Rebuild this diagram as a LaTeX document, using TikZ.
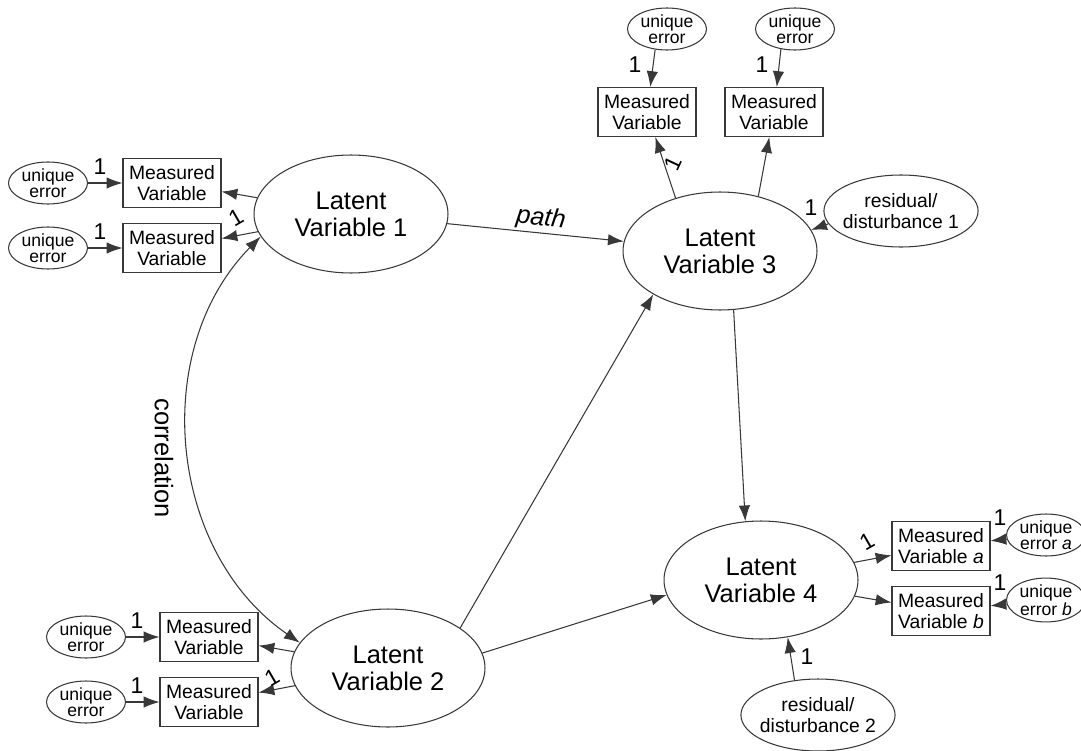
\documentclass[tikz,border=0pt]{standalone}
\usepackage{fontspec}
\setmainfont{Liberation Sans}
\usepackage{tikz}
\usetikzlibrary{shapes.geometric,arrows.meta}
\usepackage{xcolor}
\definecolor{linegray}{rgb}{0.22,0.22,0.22}

\begin{document}
\begin{tikzpicture}[x=0.02cm,y=-0.02cm,line width=0.6pt,
    latent/.style={draw=linegray,ellipse,inner sep=0pt,minimum width=3.88cm,minimum height=2.36cm,align=center,font=\fontsize{14.5}{15.5}\selectfont},
    measured/.style={draw=linegray,rectangle,inner sep=0pt,minimum width=1.96cm,minimum height=0.98cm,align=center,font=\fontsize{11}{11.5}\selectfont},
    uerr/.style={draw=linegray,ellipse,inner sep=0pt,minimum width=1.58cm,minimum height=0.84cm,align=center,font=\fontsize{10}{9}\selectfont},
    resid/.style={draw=linegray,ellipse,inner xsep=-2pt,inner ysep=0pt,minimum width=3.04cm,minimum height=1.44cm,align=center,font=\fontsize{11}{12}\selectfont},
    arr/.style={draw=linegray,-{Latex[length=9pt,width=6.5pt]}},
    corr/.style={draw=linegray,{Latex[length=9pt,width=6.5pt]}-{Latex[length=9pt,width=6.5pt]}},
    one/.style={font=\fontsize{13}{13}\selectfont,inner sep=0pt}]
    \useasboundingbox (0,0) rectangle (1081,750);

    \node[latent] (lv1) at (351,214) {Latent\\Variable 1};
    \node[latent] (lv2) at (388,668) {Latent\\Variable 2};
    \node[latent] (lv3) at (720,251) {Latent\\Variable 3};
    \node[latent] (lv4) at (761,580) {Latent\\Variable 4};

    \node[measured] (mv1a) at (172,183) {Measured\\Variable};
    \node[measured] (mv1b) at (172,248) {Measured\\Variable};
    \node[measured] (mv2a) at (209,637) {Measured\\Variable};
    \node[measured] (mv2b) at (209,702) {Measured\\Variable};
    \node[measured] (mv3a) at (647,112) {Measured\\Variable};
    \node[measured] (mv3b) at (774,112) {Measured\\Variable};
    \node[measured] (mva) at (941,546) {Measured\\Variable \textit{a}};
    \node[measured] (mvb) at (941,611) {Measured\\Variable \textit{b}};

    \node[uerr] (ue1a) at (48,183) {unique\\error};
    \node[uerr] (ue1b) at (48,248) {unique\\error};
    \node[uerr] (ue2a) at (86,637) {unique\\error};
    \node[uerr] (ue2b) at (86,702) {unique\\error};
    \node[uerr] (ue3a) at (667,29) {unique\\error};
    \node[uerr] (ue3b) at (795,29) {unique\\error};
    \node[uerr] (uea) at (1046,535) {unique\\error \textit{a}};
    \node[uerr] (ueb) at (1046,600) {unique\\error \textit{b}};

    \node[resid] (rd1) at (901,211) {residual/\\disturbance 1};
    \node[resid] (rd2) at (818,715) {residual/\\disturbance 2};

    \draw[arr] (ue1a) -- (mv1a);
    \draw[arr] (ue1b) -- (mv1b);
    \draw[arr] (ue2a) -- (mv2a);
    \draw[arr] (ue2b) -- (mv2b);
    \draw[arr] (ue3a.240) -- (mv3a);
    \draw[arr] (ue3b.235) -- (mv3b);
    \draw[arr] (uea) -- (mva);
    \draw[arr] (ueb) -- (mvb);

    \draw[arr] (lv1) -- (mv1a);
    \draw[arr] (lv1) -- (mv1b);
    \draw[arr] (lv2) -- (mv2a);
    \draw[arr] (lv2) -- (mv2b);
    \draw[arr] (lv3.130) -- (mv3a);
    \draw[arr] (lv3.55) -- (mv3b);
    \draw[arr] (lv4) -- (mva);
    \draw[arr] (lv4) -- (mvb);

    \draw[arr] (rd1.190) -- (lv3.13);
    \draw[arr] (rd2.124) -- (lv4.295);

    \draw[arr] (lv1) -- (lv3);
    \draw[arr] (lv2.29) -- (lv3.213);
    \draw[arr] (lv2.9) -- (lv4.189);
    \draw[arr] (lv3.283) -- (lv4.105);
    \draw[corr] (lv1.194) to[bend right=50] (lv2.164);

    \node[font=\fontsize{14.5}{15}\selectfont\itshape,rotate=-7] (pathlbl) at (541,219) {path};
    \node[font=\fontsize{14.5}{15}\selectfont,rotate=-90] (corrlbl) at (164,458) {correlation};

    \node[one] (w1) at (100,167) {1};
    \node[one] (w2) at (100,232) {1};
    \node[one,rotate=30] (w3) at (236,218) {1};
    \node[one] (w4) at (137,621) {1};
    \node[one] (w5) at (137,686) {1};
    \node[one,rotate=30] (w6) at (272,678) {1};
    \node[one] (w7) at (635,65) {1};
    \node[one] (w8) at (762,65) {1};
    \node[one,rotate=65] (w9) at (673,163) {1};
    \node[one] (w10) at (811,208) {1};
    \node[one,rotate=30] (w11) at (867,542) {1};
    \node[one] (w12) at (1000,518) {1};
    \node[one] (w13) at (1000,583) {1};
    \node[one] (w14) at (807,657) {1};
\end{tikzpicture}
\end{document}
